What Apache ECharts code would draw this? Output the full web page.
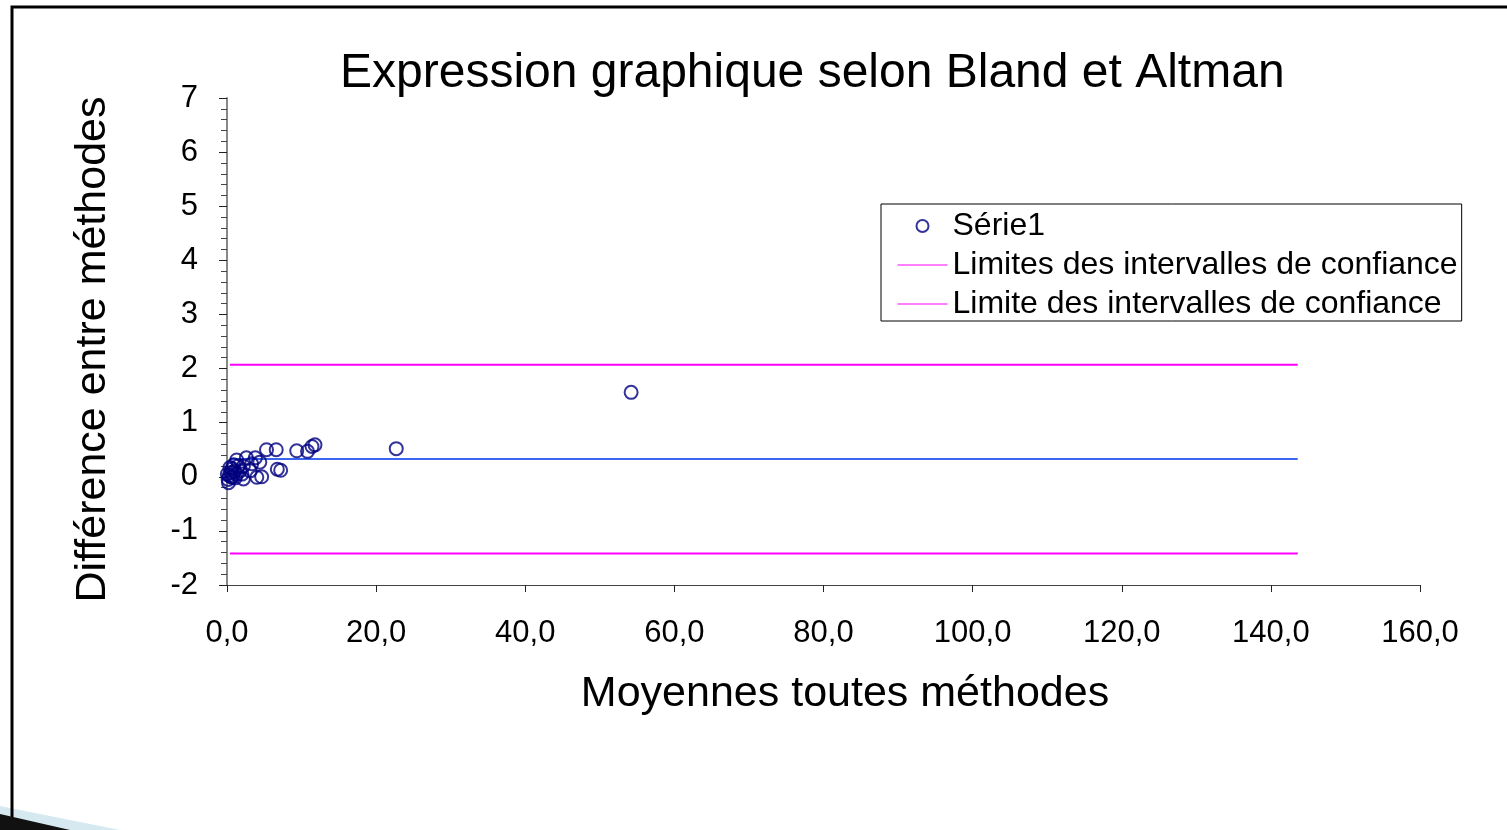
<!DOCTYPE html>
<html>
<head>
<meta charset="utf-8">
<script src="https://cdn.jsdelivr.net/npm/echarts@6/dist/echarts.min.js"></script>
<style>
html,body{margin:0;padding:0;background:#fff;}
#chart{width:1507px;height:830px;}
</style>
</head>
<body>
<div id="chart"></div>
<script>
// Data
const titleText = 'Expression graphique selon Bland et Altman';
const xName = 'Moyennes toutes méthodes';
const yName = 'Différence entre méthodes';
const seriesNames = ['Série1', 'Limites des intervalles de confiance', 'Limite des intervalles de confiance'];

// Scatter: mean of methods (x) and difference between methods (y)
const averages = [5.3, 6.6, 9.35, 10.8, 11.4, 11.8, 6.75, 7.2, 1.3, 2.6, 3.8, 4.4, 3.3, 2.2, 0.4, 0.05, 0.6, 1.3, 0.2, 2.2, 4.0, 4.65, 3.1, 1.75, 0.3, 0.5, 0.8, 1.0, 0.15, 0.7, 1.5, 2.0, 1.1, 0.9, 22.7, 54.2];
const differences = [0.50, 0.50, 0.48, 0.47, 0.56, 0.59, 0.14, 0.12, 0.31, 0.35, 0.35, 0.27, 0.24, 0.20, 0.17, 0.05, -0.01, 0.05, -0.11, -0.04, -0.01, 0.0, 0.11, 0.11, 0.02, 0.08, 0.0, 0.10, -0.05, 0.15, 0.20, 0.05, -0.02, 0.22, 0.52, 1.56];

// Horizontal reference lines (x extent and level)
const lineX = [0.4, 143.6];
const upperLimit = 2.07;
const lowerLimit = -1.42;
const meanDifference = 0.33;

// Axis ranges
const xMin = 0, xMax = 160, xStep = 20;
const yMin = -2, yMax = 7, yStep = 1;

const scatterData = averages.map((a, i) => [a, differences[i]]);
const hLine = (v) => lineX.map(x => [x, v]);

const chart = echarts.init(document.getElementById('chart'));
const font = 'Liberation Sans, Arial, sans-serif';
chart.setOption({
  animation: false,
  backgroundColor: '#fff',
  textStyle: { fontFamily: font },
  graphic: [
    { type: 'rect', shape: { x: 12, y: 7, width: 1520, height: 860 },
      style: { fill: 'none', stroke: '#000', lineWidth: 3 }, z: 100 },
    { type: 'polygon', shape: { points: [[0, 806], [120, 830], [0, 830]] },
      style: { fill: '#d6e8f0' }, z: 99 },
    { type: 'polygon', shape: { points: [[0, 814], [70, 830], [0, 830]] },
      style: { fill: '#111' }, z: 101 }
  ],
  title: {
    text: titleText,
    left: 335,
    top: 45,
    textStyle: { fontFamily: font, fontSize: 48, fontWeight: 'normal', color: '#000' }
  },
  legend: {
    orient: 'vertical',
    left: 881,
    top: 204,
    data: [
      { name: seriesNames[0] },
      { name: seriesNames[1], itemStyle: { opacity: 0 }, lineStyle: { width: 1 } },
      { name: seriesNames[2], itemStyle: { opacity: 0 }, lineStyle: { width: 1 } }
    ],
    itemWidth: 50,
    itemHeight: 12,
    itemGap: 7,
    padding: [6, 4, 1, 16],
    borderColor: '#000',
    borderWidth: 1,
    textStyle: { fontFamily: font, fontSize: 32, color: '#000', lineHeight: 32 }
  },
  grid: { left: 227, right: 87, top: 98, bottom: 245 },
  xAxis: {
    type: 'value',
    min: xMin, max: xMax, interval: xStep,
    name: xName,
    nameLocation: 'middle',
    nameGap: 88,
    nameTextStyle: { fontFamily: font, fontSize: 43, color: '#000', padding: [0, 0, 0, 43] },
    axisLine: { onZero: false, lineStyle: { color: '#444', width: 1 } },
    axisTick: { show: true, length: 7, lineStyle: { color: '#222' } },
    axisLabel: { fontFamily: font, fontSize: 31, color: '#000', margin: 33,
      formatter: (v) => v.toFixed(1).replace('.', ',') },
    splitLine: { show: false }
  },
  yAxis: {
    type: 'value',
    min: yMin, max: yMax, interval: yStep,
    name: yName,
    nameLocation: 'middle',
    nameGap: 112,
    nameTextStyle: { fontFamily: font, fontSize: 43, color: '#000', padding: [0, 16, 0, 0] },
    axisLine: { onZero: false, lineStyle: { color: '#888', width: 2 } },
    axisTick: { show: true, length: 8, lineStyle: { color: '#222' } },
    minorTick: { show: true, splitNumber: 5, length: 6, lineStyle: { color: '#444' } },
    axisLabel: { fontFamily: font, fontSize: 31, color: '#000', margin: 29 },
    splitLine: { show: false }
  },
  series: [
    {
      name: seriesNames[0],
      type: 'scatter',
      data: scatterData,
      symbol: 'circle',
      symbolSize: 13,
      itemStyle: { color: 'rgba(255,255,255,0)', borderColor: '#000080', borderWidth: 2 },
      z: 5
    },
    {
      name: seriesNames[1],
      type: 'line',
      data: hLine(upperLimit),
      symbol: 'none',
      lineStyle: { color: '#ff00ff', width: 2 },
      itemStyle: { color: '#ff00ff' },
      z: 3
    },
    {
      name: seriesNames[2],
      type: 'line',
      data: hLine(lowerLimit),
      symbol: 'none',
      lineStyle: { color: '#ff00ff', width: 2 },
      itemStyle: { color: '#ff00ff' },
      z: 3
    },
    {
      name: 'Moyenne',
      type: 'line',
      data: hLine(meanDifference),
      symbol: 'none',
      lineStyle: { color: '#3a66f0', width: 2 },
      itemStyle: { color: '#3a66f0' },
      z: 3
    }
  ]
});
</script>
</body>
</html>
